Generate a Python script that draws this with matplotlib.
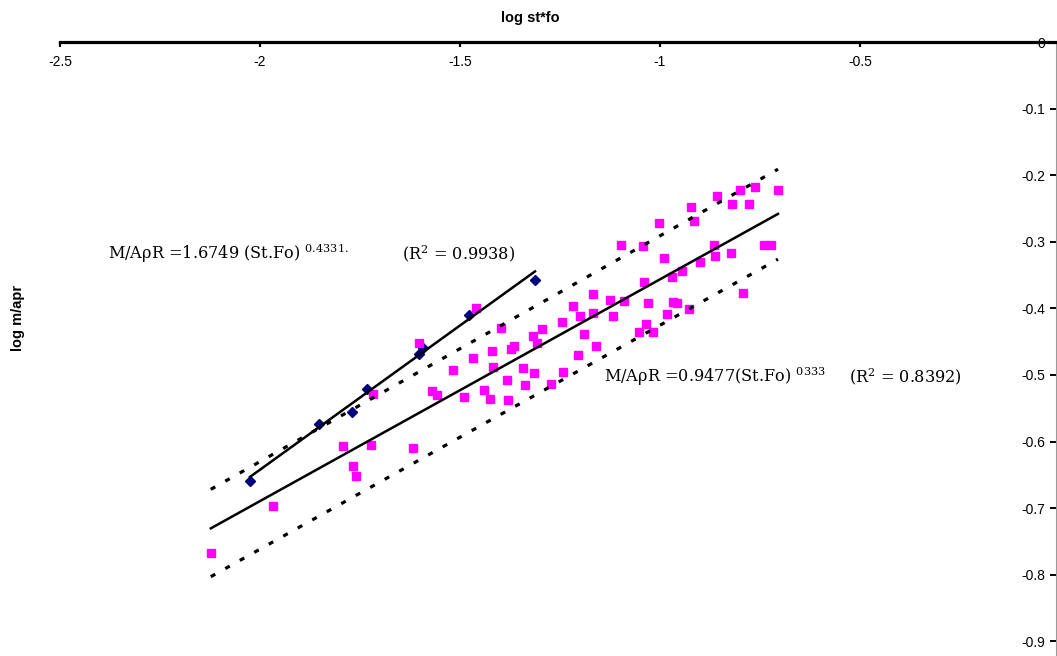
import matplotlib
matplotlib.use('Agg')
import matplotlib.pyplot as plt
import numpy as np

plt.rcParams['axes.unicode_minus'] = False
plt.rcParams['mathtext.fontset'] = 'dejavuserif'

# ---- data (log st*fo, log m/apr) ----
blue_x = [-2.025, -1.8525, -1.770, -1.7325, -1.6025, -1.5925, -1.4775, -1.3125]
blue_y = [-0.659, -0.574, -0.556, -0.521, -0.468, -0.459, -0.410, -0.357]

mag_x = [-2.123, -1.967, -1.792, -1.768, -1.761, -1.723, -1.718, -1.617, -1.602,
         -1.571, -1.558, -1.517, -1.490, -1.467, -1.460, -1.440, -1.425, -1.421,
         -1.418, -1.398, -1.383, -1.380, -1.3725, -1.365, -1.342, -1.3375, -1.317,
         -1.315, -1.3075, -1.296, -1.2725, -1.246, -1.2425, -1.217, -1.205, -1.200,
         -1.189, -1.167, -1.167, -1.160, -1.125, -1.117, -1.098, -1.090, -1.042,
         -1.040, -1.035, -1.0525, -1.017, -1.029, -1.0025, -0.990, -0.983, -0.971,
         -0.968, -0.958, -0.945, -0.9275, -0.9225, -0.915, -0.900, -0.866, -0.8625,
         -0.858, -0.823, -0.819, -0.800, -0.793, -0.7775, -0.7625, -0.740, -0.7225,
         -0.705]
mag_y = [-0.768, -0.697, -0.607, -0.637, -0.652, -0.605, -0.529, -0.609, -0.452,
         -0.524, -0.530, -0.492, -0.533, -0.474, -0.400, -0.523, -0.536, -0.464,
         -0.488, -0.429, -0.508, -0.538, -0.461, -0.456, -0.489, -0.515, -0.442,
         -0.497, -0.452, -0.431, -0.514, -0.420, -0.495, -0.396, -0.470, -0.412,
         -0.439, -0.379, -0.407, -0.456, -0.387, -0.411, -0.305, -0.389, -0.306,
         -0.361, -0.424, -0.436, -0.435, -0.392, -0.272, -0.325, -0.409, -0.353,
         -0.391, -0.392, -0.344, -0.401, -0.248, -0.269, -0.331, -0.305, -0.321,
         -0.231, -0.317, -0.243, -0.222, -0.377, -0.243, -0.218, -0.305, -0.305,
         -0.222]

# trend lines (slope, intercept) in log-log space
blue_fit = (0.4331, np.log10(1.6749))
mag_fit = (0.333, np.log10(0.9477))
upper_band = (0.339, 0.0480)
lower_band = (0.3362, -0.0891)

x_ticks = [-2.5, -2, -1.5, -1, -0.5, 0]
x_tick_labels = ['-2.5', '-2', '-1.5', '-1', '-0.5', '0']
y_ticks = [0, -0.1, -0.2, -0.3, -0.4, -0.5, -0.6, -0.7, -0.8, -0.9]
y_tick_labels = ['0', '-0.1', '-0.2', '-0.3', '-0.4', '-0.5', '-0.6', '-0.7', '-0.8', '-0.9']

eq_blue = r"M/AρR =1.6749 (St.Fo) $^{\mathrm{0.4331.}}$"
r2_blue = r"(R$^{\mathrm{2}}$ = 0.9938)"
eq_mag = r"M/AρR =0.9477(St.Fo) $^{\mathrm{0333}}$"
r2_mag = r"(R$^{\mathrm{2}}$ = 0.8392)"

# ---- figure ----
W, H = 1057, 656
fig = plt.figure(figsize=(W / 100, H / 100), dpi=100)
ax = fig.add_axes([60 / W, 0, 1000 / W, (H - 42) / H])
ax.set_xlim(-2.5, 0)
ax.set_ylim(-(H - 42) / 666, 0)

ax.plot(blue_x, blue_y, linestyle='none', marker='D', ms=5.2, color='#000080',
        zorder=2, clip_on=False)
ax.plot(mag_x, mag_y, linestyle='none', marker='s', ms=6.3, color='#FF00FF',
        zorder=3, clip_on=False)

bx = np.array([min(blue_x), max(blue_x)])
mx = np.array([min(mag_x), max(mag_x)])
ax.plot(bx, blue_fit[0] * bx + blue_fit[1], color='black', lw=1.8, zorder=4)
ax.plot(mx, mag_fit[0] * mx + mag_fit[1], color='black', lw=1.8, zorder=4)
ax.plot(mx, upper_band[0] * mx + upper_band[1], color='black', lw=2.3,
        linestyle=(0, (1.6, 3.6)), zorder=4)
ax.plot(mx, lower_band[0] * mx + lower_band[1], color='black', lw=2.3,
        linestyle=(0, (1.6, 3.6)), zorder=4)

# axes styling (Excel-like)
for s in ['top', 'right']:
    ax.spines[s].set_visible(False)
ax.spines['bottom'].set_position(('data', 0))
ax.spines['bottom'].set_linewidth(2.3)
ax.spines['bottom'].set_zorder(5)
ax.spines['left'].set_position(('axes', 0.996))
ax.spines['left'].set_linewidth(0.8)
ax.spines['left'].set_color('#9a9a9a')

ax.set_xticks(x_ticks)
ax.set_xticklabels(x_tick_labels)
ax.set_yticks(y_ticks)
ax.set_yticklabels(y_tick_labels)
ax.tick_params(axis='x', direction='out', length=3.5, width=1.6, pad=6,
               labelsize=10, color='black')
ax.tick_params(axis='y', direction='out', length=4, width=1.4, pad=4,
               labelsize=10, color='black')
for lab in ax.get_xticklabels() + ax.get_yticklabels():
    lab.set_fontfamily('Liberation Sans')

eq_kw = dict(family='DejaVu Serif', fontsize=11.6, va='center')
ax.text(-2.38, -0.317, eq_blue, ha='left', **eq_kw)
ax.text(-1.3625, -0.317, r2_blue, ha='right', **eq_kw)
ax.text(-1.14, -0.503, eq_mag, ha='left', **eq_kw)
ax.text(-0.245, -0.503, r2_mag, ha='right', **eq_kw)

fig.text(530 / W, 1 - 18 / H, 'log st*fo', ha='center', va='center',
         fontsize=10.5, fontweight='bold', family=['Liberation Sans Narrow', 'Liberation Sans'])
fig.text(18 / W, 1 - 318 / H, 'log m/apr', ha='center', va='center',
         rotation=90, fontsize=10.5, fontweight='bold',
         family=['Liberation Sans Narrow', 'Liberation Sans'])

fig.savefig('out.png', dpi=100)
